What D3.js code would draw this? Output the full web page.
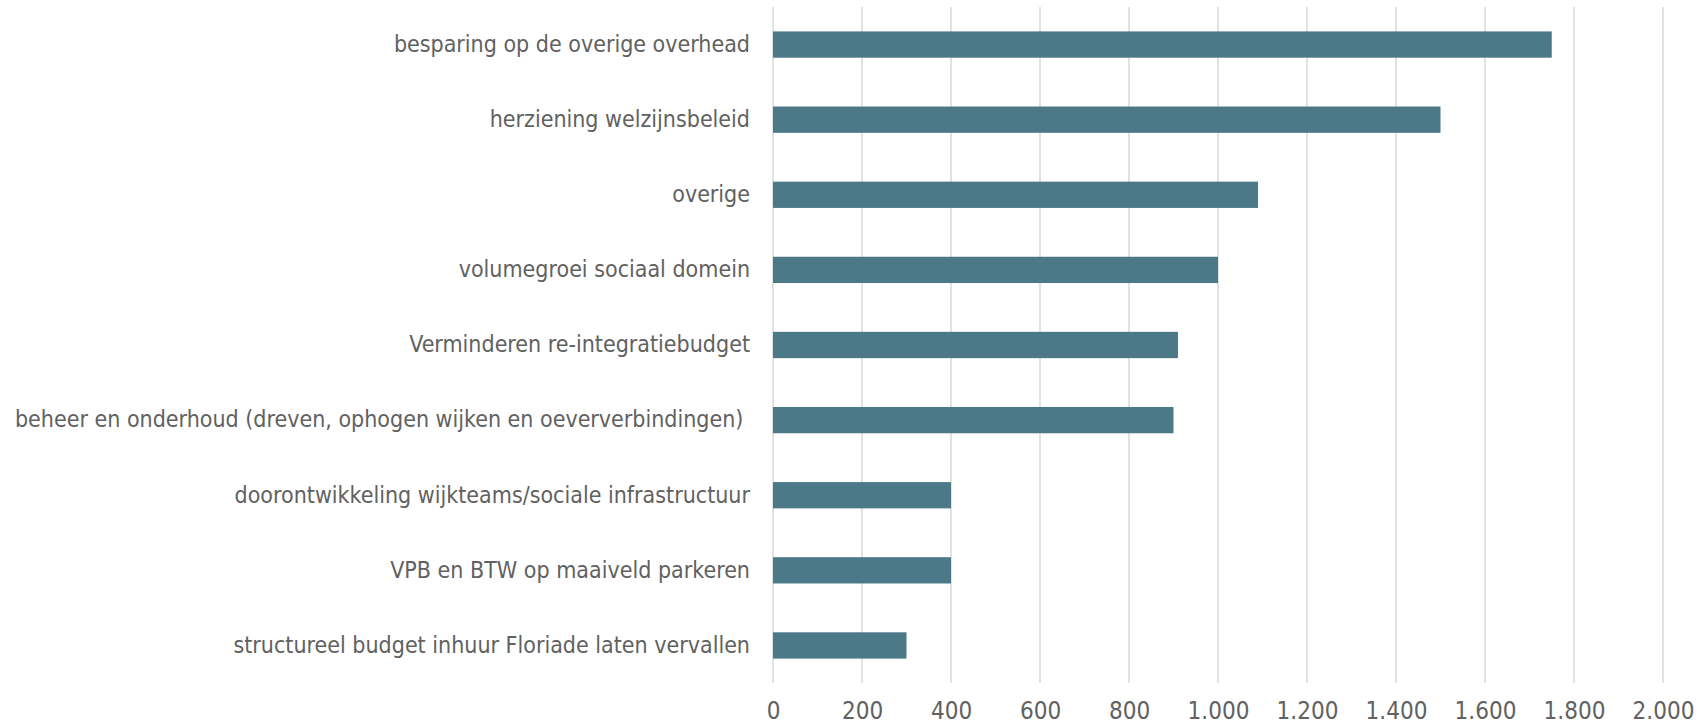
<!DOCTYPE html>
<html>
<head>
<meta charset="utf-8">
<script src="https://cdn.jsdelivr.net/npm/d3@7"></script>
<style>
  body { margin: 0; background: #fff; }
  text { font-family: "Liberation Sans Narrow", "DejaVu Sans Condensed", "Roboto", sans-serif; fill: #616161; white-space: pre; }
</style>
</head>
<body>
<div id="chart"></div>
<script>
// categories top to bottom
const categories = [
    "besparing op de overige overhead",
    "herziening welzijnsbeleid",
    "overige",
    "volumegroei sociaal domein",
    "Verminderen re-integratiebudget",
    "beheer en onderhoud (dreven, ophogen wijken en oeververbindingen) ",
    "doorontwikkeling wijkteams/sociale infrastructuur",
    "VPB en BTW op maaiveld parkeren",
    "structureel budget inhuur Floriade laten vervallen"
];
const values = [1750, 1500, 1090, 1000, 910, 900, 400, 400, 300];
const xTicks = [0, 200, 400, 600, 800, 1000, 1200, 1400, 1600, 1800, 2000];

const svgWidth = 1705;
const svgHeight = 727;
const margin = { top: 7, right: 42, bottom: 44, left: 773 };
const width = svgWidth - margin.left - margin.right;
const height = svgHeight - margin.top - margin.bottom;

const nl = d3.formatLocale({ decimal: ",", thousands: ".", grouping: [3], currency: ["€", ""] });

const svg = d3.select("#chart").append("svg")
    .attr("width", svgWidth)
    .attr("height", svgHeight)
    .append("g")
    .attr("transform", "translate(" + margin.left + "," + margin.top + ")");

const x = d3.scaleLinear().domain([0, 2000]).range([0, 890]);
const y = d3.scaleBand().domain(categories).range([0, height]).paddingInner(0.65).paddingOuter(0.325);

// gridlines
svg.selectAll(".grid")
    .data(xTicks)
    .enter().append("line")
    .attr("class", "grid")
    .attr("x1", d => x(d))
    .attr("x2", d => x(d))
    .attr("y1", 0)
    .attr("y2", height)
    .attr("stroke", "#d9d9d9")
    .attr("stroke-width", 1.5);

// bars
svg.selectAll(".bar")
    .data(values)
    .enter().append("rect")
    .attr("class", "bar")
    .attr("x", x(0))
    .attr("y", (d, i) => y(categories[i]))
    .attr("width", d => x(d) - x(0))
    .attr("height", y.bandwidth())
    .attr("fill", "#4b7988");

// x axis labels
const xAxis = svg.append("g")
    .attr("transform", "translate(0," + height + ")")
    .call(d3.axisBottom(x).tickValues(xTicks).tickFormat(nl.format(",")).tickSize(0).tickPadding(19));
xAxis.select(".domain").remove();
xAxis.selectAll("text")
    .style("font-size", "24px");

// y axis labels
const yAxis = svg.append("g")
    .call(d3.axisLeft(y).tickSize(0).tickPadding(23));
yAxis.select(".domain").remove();
yAxis.selectAll("text")
    .style("font-size", "23px");
svg.selectAll(".tick text").attr("font-family", null).attr("fill", null);
</script>
</body>
</html>
